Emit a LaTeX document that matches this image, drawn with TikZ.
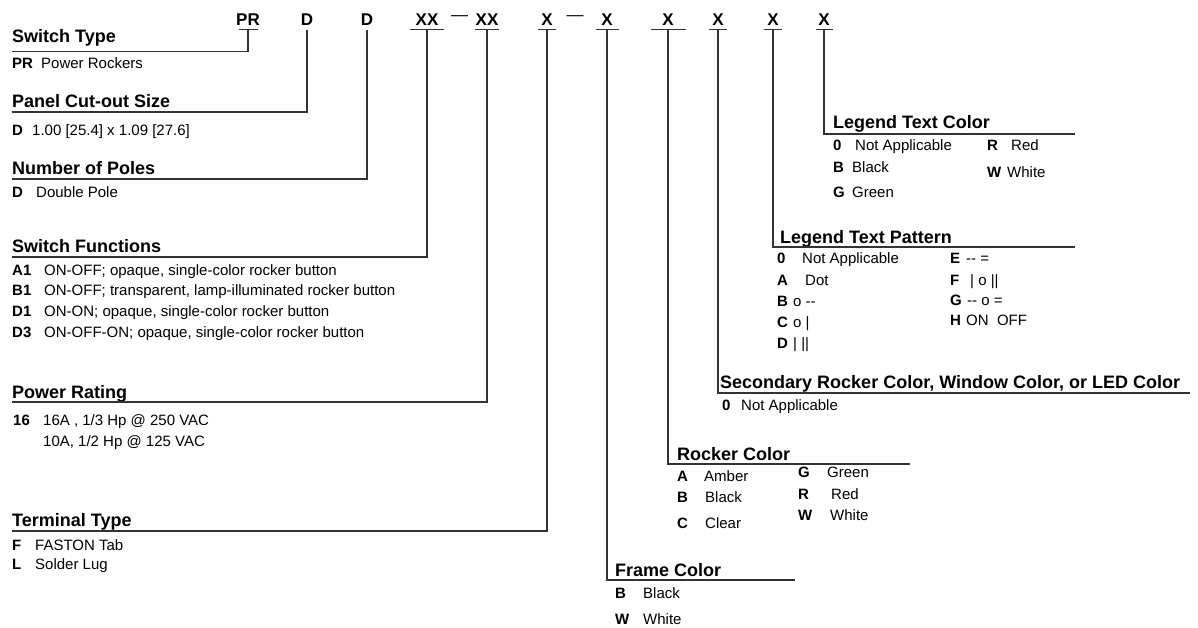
\documentclass[tikz,border=0pt]{standalone}
\usepackage{fontspec}
\setmainfont{Liberation Sans}

\tikzset{
  head/.style={anchor=base west, inner sep=0pt, font=\fontsize{18}{20}\selectfont\bfseries},
  item/.style={anchor=base west, inner sep=0pt, font=\fontsize{15}{18}\selectfont},
  key/.style={anchor=base west, inner sep=0pt, font=\fontsize{15}{18}\selectfont\bfseries},
  code/.style={anchor=base, inner sep=0pt, font=\fontsize{17}{20}\selectfont\bfseries},
  lead/.style={line width=1.2pt, draw=black!80}
}

\begin{document}
\begin{tikzpicture}[x=1pt,y=-1pt]
    \useasboundingbox (0,0) rectangle (1198,627);

    % part number along the top
    \foreach \n/\x/\t/\w in {1/248/PR/9.5, 2/307/D/0, 3/367/D/0, 4/427/XX/17, 5/487/XX/12,
        6/547/X/9, 7/607/X/11.5, 8/668/X/17.5, 9/718/X/9, 10/773/X/9, 11/824/X/8.5}{
      \node[code] (c\n) at (\x,25) {\t};
      \coordinate (b\n) at (\x,29.5);
      \draw[lead] ([xshift=-\w pt]b\n) -- ([xshift=\w pt]b\n);
    }
    \node[anchor=base, inner sep=0pt, font=\fontsize{17}{20}\selectfont] (s1) at (459.5,20.5) {—};
    \node[anchor=base, inner sep=0pt, font=\fontsize{17}{20}\selectfont] (s2) at (575,20.5) {—};

    % switch type
    \node[head] (hST) at (12,42) {Switch Type};
    \coordinate (lST) at (12,51.5);
    \draw[lead] (b1) -- (b1 |- lST) -- (lST);
    \node[key] (kPR) at (12,68) {PR};
    \node[item] (tPR) at (41,68) {Power Rockers};

    % panel cut-out
    \node[head] (hPC) at (12,107) {Panel Cut-out Size};
    \coordinate (lPC) at (12,112);
    \draw[lead] (b2) -- (b2 |- lPC) -- (lPC);
    \node[key] (kD1) at (12,135) {D};
    \node[item] (tD1) at (32,135) {1.00 [25.4] x 1.09 [27.6]};

    % poles
    \node[head] (hNP) at (12,174.5) {Number of Poles};
    \coordinate (lNP) at (12,179);
    \draw[lead] (b3) -- (b3 |- lNP) -- (lNP);
    \node[key] (kD2) at (12,197) {D};
    \node[item] (tD2) at (36,197) {Double Pole};

    % switch functions
    \node[head] (hSF) at (12,252.5) {Switch Functions};
    \coordinate (lSF) at (12,257);
    \draw[lead] (b4) -- (b4 |- lSF) -- (lSF);
    \foreach \k/\t [count=\i] in {A1/{ON-OFF; opaque, single-color rocker button},
        B1/{ON-OFF; transparent, lamp-illuminated rocker button},
        D1/{ON-ON; opaque, single-color rocker button},
        D3/{ON-OFF-ON; opaque, single-color rocker button}}{
      \node[key] (kSF\i) at (12,254.5+20.7*\i) {\k};
      \node[item] (tSF\i) at (44,254.5+20.7*\i) {\t};
    }

    % power rating
    \node[head] (hPR) at (12,398) {Power Rating};
    \coordinate (lPR) at (12,402);
    \draw[lead] (b5) -- (b5 |- lPR) -- (lPR);
    \node[key] (k16) at (13,425) {16};
    \node[item] (t16a) at (43,425) {16A , 1/3 Hp @ 250 VAC};
    \node[item] (t16b) at (43,446) {10A, 1/2 Hp @ 125 VAC};

    % terminal type
    \node[head] (hTT) at (12,526.5) {Terminal Type};
    \coordinate (lTT) at (12,531);
    \draw[lead] (b6) -- (b6 |- lTT) -- (lTT);
    \node[key] (kF) at (12,550) {F};
    \node[item] (tF) at (35,550) {FASTON Tab};
    \node[key] (kL) at (12,569) {L};
    \node[item] (tL) at (35,569) {Solder Lug};

    % frame color
    \node[head] (hFC) at (615,576.5) {Frame Color};
    \coordinate (lFC) at (795,580);
    \draw[lead] (b7) -- (b7 |- lFC) -- (lFC);
    \node[key] (kFB) at (615,598) {B};
    \node[item] (tFB) at (643,598) {Black};
    \node[key] (kFW) at (615,624) {W};
    \node[item] (tFW) at (643,624) {White};

    % rocker color
    \node[head] (hRC) at (677,460) {Rocker Color};
    \coordinate (lRC) at (910,464);
    \draw[lead] (b8) -- (b8 |- lRC) -- (lRC);
    \node[key] (kRA) at (677,481) {A};
    \node[item] (tRA) at (704,481) {Amber};
    \node[key] (kRB) at (677,502) {B};
    \node[item] (tRB) at (705,502) {Black};
    \node[key] (kRC) at (677,528) {C};
    \node[item] (tRC) at (705,528) {Clear};
    \node[key] (kRG) at (798,477) {G};
    \node[item] (tRG) at (827,477) {Green};
    \node[key] (kRR) at (798,499) {R};
    \node[item] (tRR) at (831,499) {Red};
    \node[key] (kRW) at (798,520) {W};
    \node[item] (tRW) at (830,520) {White};

    % secondary color
    \node[head] (hSC) at (720,388.5) {Secondary Rocker Color, Window Color, or LED Color};
    \coordinate (lSC) at (1190,393);
    \draw[lead] (b9) -- (b9 |- lSC) -- (lSC);
    \node[key] (kS0) at (722,410) {0};
    \node[item] (tS0) at (741,410) {Not Applicable};

    % legend text pattern
    \node[head] (hLP) at (780,243) {Legend Text Pattern};
    \coordinate (lLP) at (1075,247);
    \draw[lead] (b10) -- (b10 |- lLP) -- (lLP);
    \node[key] (kP0) at (777,263) {0};
    \node[item] (tP0) at (802,263) {Not Applicable};
    \node[key] (kPA) at (777,285) {A};
    \node[item] (tPA) at (805,285) {Dot};
    \node[key] (kPB) at (777,306) {B};
    \node[item] (tPB) at (793,306) {o -{}-};
    \node[key] (kPC) at (777,327) {C};
    \node[item] (tPC) at (793,327) {o |};
    \node[key] (kPD) at (777,348) {D};
    \node[item] (tPD) at (793,348) {| ||};
    \node[key] (kPE) at (950,263) {E};
    \node[item] (tPE) at (966,263) {-{}- =};
    \node[key] (kPF) at (950,285) {F};
    \node[item] (tPF) at (970,285) {| o ||};
    \node[key] (kPG) at (950,305) {G};
    \node[item] (tPG) at (967,305) {-{}- o =};
    \node[key] (kPH) at (950,325) {H};
    \node[item] (tPH) at (966,325) {ON\ \ OFF};

    % legend text color
    \node[head] (hLC) at (833,128.5) {Legend Text Color};
    \coordinate (lLC) at (1075,134);
    \draw[lead] (b11) -- (b11 |- lLC) -- (lLC);
    \node[key] (kC0) at (833,150) {0};
    \node[item] (tC0) at (855,150) {Not Applicable};
    \node[key] (kCB) at (833,172) {B};
    \node[item] (tCB) at (852,172) {Black};
    \node[key] (kCG) at (833,197) {G};
    \node[item] (tCG) at (852,197) {Green};
    \node[key] (kCR) at (987,150) {R};
    \node[item] (tCR) at (1011,150) {Red};
    \node[key] (kCW) at (987,177) {W};
    \node[item] (tCW) at (1007,177) {White};
\end{tikzpicture}
\end{document}
